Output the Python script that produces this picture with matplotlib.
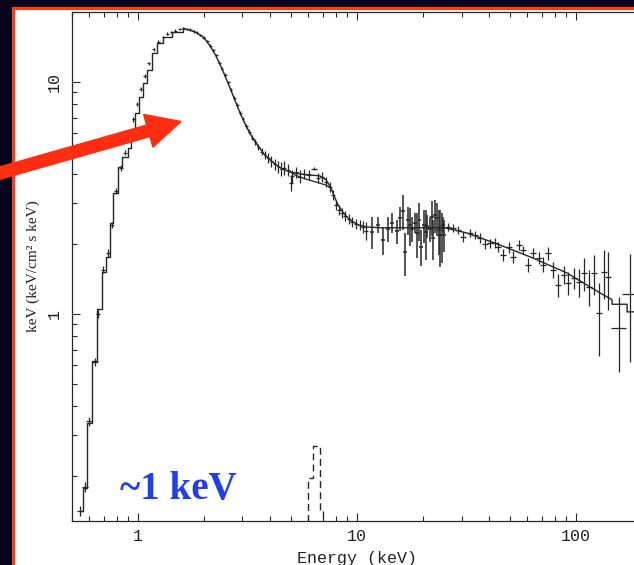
import matplotlib
matplotlib.use('Agg')
import matplotlib.pyplot as plt
import matplotlib.patches as mpatches
from matplotlib.transforms import IdentityTransform
from matplotlib.ticker import FixedLocator, FixedFormatter, LogLocator, NullFormatter

# model spectrum, soft end drawn as a histogram (bin start, value)
soft_model_e = [0.543, 0.561, 0.585, 0.617, 0.650, 0.685, 0.714, 0.745, 0.769, 0.810, 0.845,
                0.900, 0.929, 0.969, 1.011, 1.054, 1.099, 1.158, 1.221, 1.301, 1.430, 1.606]
soft_model_f = [0.1416, 0.178, 0.339, 0.627, 1.051, 1.517, 1.761, 2.467, 3.323, 4.30, 4.75,
                5.19, 6.21, 7.35, 8.61, 9.90, 11.27, 13.34, 14.72, 15.63, 16.43, 16.92]

# model above the peak
hard_model_e = [1.606, 1.727, 1.859, 2.001, 2.133, 2.271, 2.419, 2.576, 2.744, 2.923,
                3.112, 3.316, 3.531, 3.761, 4.006, 4.267, 4.545, 4.944, 5.492, 6.10,
                6.777, 7.219, 7.608, 7.85, 8.19, 8.72, 9.29, 10.11, 10.99, 12.74,
                19.40, 25.2, 31.8, 45.0, 63.6, 90.9, 128.8, 146.0, 146.0, 171.0, 171.0, 200.0]
hard_model_f = [16.92, 16.75, 16.26, 15.48, 14.30, 12.94, 11.38, 9.90, 8.53, 7.35,
                6.46, 5.79, 5.30, 4.89, 4.61, 4.39, 4.22, 4.09, 4.01, 3.97,
                3.93, 3.78, 3.49, 3.23, 2.95, 2.70, 2.54, 2.42, 2.37, 2.35,
                2.35, 2.35, 2.23, 1.98, 1.74, 1.50, 1.23, 1.15, 1.10, 1.10, 1.02, 1.02]

# continuum without the iron line
cont_e = [4.944, 5.21, 5.79, 6.43, 7.14, 7.608]
cont_f = [4.09, 3.97, 3.82, 3.71, 3.60, 3.49]

# iron line component (dashed)
fe_edges = [5.97, 6.30, 6.78, 7.00]
fe_f = [0.196, 0.270, 0.141]

# data: soft band
lo_e = [0.545, 0.573, 0.597, 0.637, 0.657, 0.692, 0.730, 0.761, 0.793, 0.836, 0.872, 0.915, 0.950,
        0.990, 1.030, 1.075, 1.120, 1.180, 1.240, 1.300, 1.360, 1.420, 1.480, 1.550, 1.610]
lo_f = [0.142, 0.180, 0.345, 0.620, 1.00, 1.55, 1.83, 2.42, 3.40, 4.25, 4.95, 5.75, 6.90,
        8.00, 9.30, 10.6, 12.0, 13.8, 14.9, 15.6, 16.1, 16.4, 16.6, 16.9, 17.0]
lo_de = [0.018, 0.018, 0.017, 0.017, 0.016, 0.016, 0.015, 0.015, 0.015, 0.015, 0.015, 0.015, 0.015,
         0.015, 0.015, 0.016, 0.016, 0.017, 0.018, 0.018, 0.019, 0.020, 0.020, 0.021, 0.022]
lo_df = [0.007, 0.009, 0.016, 0.026, 0.040, 0.055, 0.065, 0.080, 0.10, 0.12, 0.13, 0.14, 0.16,
         0.17, 0.18, 0.19, 0.20, 0.21, 0.22, 0.22, 0.22, 0.22, 0.22, 0.22, 0.22]

# data: peak and fall
pk_e = [1.67, 1.73, 1.80, 1.86, 1.93, 2.00, 2.07, 2.14, 2.21, 2.28, 2.35, 2.42, 2.50, 2.58, 2.66,
        2.75, 2.84, 2.93, 3.02, 3.12, 3.22, 3.32, 3.43, 3.55, 3.67, 3.80, 3.93, 4.07, 4.21, 4.36, 4.51]
pk_f = [16.9, 16.8, 16.5, 16.3, 15.9, 15.5, 15.0, 14.3, 13.7, 13.0, 12.1, 11.4, 10.7, 9.95, 9.25,
        8.55, 7.95, 7.35, 6.90, 6.45, 6.10, 5.75, 5.50, 5.25, 5.00, 4.85, 4.70, 4.55, 4.42, 4.30, 4.22]
pk_de = [0.025, 0.026, 0.027, 0.028, 0.029, 0.030, 0.031, 0.032, 0.033, 0.034, 0.035, 0.036, 0.037, 0.039, 0.040,
         0.041, 0.043, 0.044, 0.045, 0.047, 0.048, 0.050, 0.051, 0.053, 0.055, 0.057, 0.059, 0.061, 0.063, 0.065, 0.068]
pk_df = [0.20, 0.20, 0.20, 0.20, 0.20, 0.20, 0.20, 0.20, 0.19, 0.19, 0.18, 0.18, 0.17, 0.17, 0.16,
         0.16, 0.16, 0.16, 0.15, 0.15, 0.15, 0.16, 0.16, 0.17, 0.18, 0.20, 0.22, 0.24, 0.25, 0.26, 0.28]

# data: iron region
md_e = [4.64, 4.84, 4.99, 5.05, 5.27, 5.49, 5.73, 6.03, 6.36, 6.64, 6.92, 7.22,
        7.53, 7.77, 8.02, 8.27, 8.52, 8.80, 9.18, 9.49, 9.90, 10.32, 10.65, 10.99]
md_f = [4.26, 4.17, 3.67, 3.93, 4.09, 3.90, 4.01, 3.97, 4.22, 3.86, 3.90, 3.71,
        3.53, 3.26, 2.95, 2.81, 2.72, 2.64, 2.57, 2.49, 2.44, 2.42, 2.37, 2.28]
md_de = [0.12, 0.12, 0.12, 0.13, 0.13, 0.14, 0.14, 0.15, 0.20, 0.16, 0.17, 0.17,
         0.18, 0.19, 0.19, 0.20, 0.20, 0.21, 0.22, 0.23, 0.24, 0.25, 0.25, 0.26]
md_df = [0.30, 0.25, 0.30, 0.25, 0.22, 0.25, 0.20, 0.20, 0.06, 0.20, 0.20, 0.18,
         0.18, 0.16, 0.15, 0.14, 0.13, 0.13, 0.13, 0.12, 0.12, 0.12, 0.15, 0.20]

# data: noisy 12-25 keV band
nz_e = [11.71, 12.47, 13.14, 13.86, 14.45, 15.23, 15.72, 16.22, 16.57, 17.10,
        17.46, 17.83, 18.40, 18.79, 19.20, 19.60, 20.23, 20.66, 20.87, 21.54,
        22.00, 22.23, 22.71, 23.19, 23.68, 23.90, 24.45, 24.70, 24.95]
nz_f = [2.26, 2.42, 2.08, 2.33, 2.47, 2.27, 2.58, 2.78, 1.84, 2.54,
        2.42, 2.33, 2.47, 2.23, 2.54, 1.95, 2.42, 2.25, 2.40, 2.33,
        2.62, 2.12, 2.67, 2.59, 2.30, 2.19, 2.19, 2.42, 2.19]
nz_de = [0.20, 0.21, 0.22, 0.23, 0.24, 0.25, 0.26, 0.27, 0.27, 0.28,
         0.29, 0.29, 0.30, 0.31, 0.31, 0.32, 0.33, 0.34, 0.34, 0.35,
         0.36, 0.36, 0.37, 0.38, 0.39, 0.39, 0.40, 0.40, 0.41]
nz_df = [0.36, 0.20, 0.28, 0.28, 0.25, 0.27, 0.31, 0.48, 0.39, 0.35,
         0.45, 0.28, 0.25, 0.49, 0.47, 0.35, 0.39, 0.55, 0.27, 0.28,
         0.45, 0.42, 0.43, 0.42, 0.50, 0.60, 0.53, 0.20, 0.34]

# data: hard tail
hi_e = [26.0, 27.4, 28.9, 30.5, 32.8, 34.6, 36.4, 38.4, 40.5, 42.7, 44.0, 46.4,
        49.4, 51.6, 54.9, 57.3, 60.4, 63.6, 67.8, 70.7, 74.5, 78.5, 82.8, 88.2,
        91.9, 97.9, 103, 109, 115, 121, 127, 134, 140, 157, 177]
hi_f = [2.37, 2.35, 2.30, 2.15, 2.23, 2.19, 2.13, 2.00, 2.02, 2.02, 1.94, 1.80,
        1.94, 1.76, 1.98, 1.89, 1.63, 1.83, 1.74, 1.63, 1.83, 1.55, 1.33, 1.47,
        1.36, 1.43, 1.37, 1.50, 1.31, 1.50, 1.01, 1.52, 1.44, 0.87, 1.22]
hi_de = [0.83, 0.88, 0.92, 0.98, 1.05, 1.10, 1.17, 1.23, 1.30, 1.37, 1.41, 1.48,
         1.58, 1.65, 1.76, 1.83, 1.93, 2.04, 2.17, 2.26, 2.38, 2.51, 2.65, 2.82,
         2.94, 3.13, 3.30, 3.48, 3.67, 3.87, 4.08, 4.30, 4.48, 11.9, 15.5]
hi_df = [0.10, 0.10, 0.10, 0.10, 0.09, 0.09, 0.10, 0.10, 0.09, 0.10, 0.10, 0.11,
         0.11, 0.11, 0.10, 0.07, 0.11, 0.09, 0.10, 0.12, 0.12, 0.12, 0.15, 0.13,
         0.16, 0.15, 0.19, 0.24, 0.23, 0.30, 0.35, 0.36, 0.40, 0.31, 0.60]

x_ticks = [1, 10, 100]
x_tick_labels = ['1', '10', '100']
y_ticks = [1, 10]
y_tick_labels = ['1', '10']

W, H = 634, 565
ink = '#262626'

fig = plt.figure(figsize=(W / 100, H / 100), dpi=100, facecolor='#03051a')

# white slide panel with red frame (pixel coords)
panel = mpatches.Rectangle((12.5, -20), 700, 577.5, transform=IdentityTransform(),
                           facecolor='white', edgecolor='#ff3a1c', linewidth=2.3, zorder=-1)
fig.add_artist(panel)

ax = fig.add_axes([72 / W, 1 - 521 / H, 570 / W, 509 / H])
ax.set_facecolor('white')

ax.step(soft_model_e, soft_model_f, where='post', color=ink, lw=1.0)
ax.plot(hard_model_e, hard_model_f, color=ink, lw=1.0)
ax.plot(cont_e, cont_f, color=ink, lw=0.9)
ax.stairs(fe_f, fe_edges, baseline=0.05, color=ink, lw=1.0, linestyle=(0, (5, 3)))

for e, f, de, df, w in [(lo_e, lo_f, lo_de, lo_df, 0.9), (pk_e, pk_f, pk_de, pk_df, 0.9),
                        (md_e, md_f, md_de, md_df, 0.9), (nz_e, nz_f, nz_de, nz_df, 1.1),
                        (hi_e, hi_f, hi_de, hi_df, 0.9)]:
    ax.errorbar(e, f, xerr=de, yerr=df, fmt='none', ecolor=ink, elinewidth=w, capsize=0)

ax.set_xscale('log')
ax.set_yscale('log')
ax.set_xlim(0.5, 200)
ax.set_ylim(0.128, 20)

ax.xaxis.set_major_locator(FixedLocator(x_ticks))
ax.xaxis.set_major_formatter(FixedFormatter(x_tick_labels))
ax.yaxis.set_major_locator(FixedLocator(y_ticks))
ax.yaxis.set_major_formatter(FixedFormatter(y_tick_labels))
ax.xaxis.set_minor_locator(LogLocator(base=10, subs=range(2, 10)))
ax.yaxis.set_minor_locator(LogLocator(base=10, subs=range(2, 10)))
ax.xaxis.set_minor_formatter(NullFormatter())
ax.yaxis.set_minor_formatter(NullFormatter())

ax.tick_params(which='both', direction='in', top=True, right=True, color=ink, width=0.8)
ax.tick_params(which='major', length=6)
ax.tick_params(which='minor', length=3.5)
ax.tick_params(axis='x', pad=6)
ax.tick_params(axis='y', pad=7)
for lbl in ax.get_xticklabels() + ax.get_yticklabels():
    lbl.set_fontfamily('Liberation Mono')
    lbl.set_fontsize(12)
    lbl.set_color('#222222')
for lbl in ax.get_yticklabels():
    lbl.set_rotation(90)
    lbl.set_va('center')

for s in ax.spines.values():
    s.set_color(ink)
    s.set_linewidth(0.9)

ax.set_xlabel('Energy (keV)', fontfamily='Liberation Mono', fontsize=12, color='#222222')
ax.xaxis.set_label_coords(0.5, -0.058)
ax.set_ylabel('keV (keV/cm² s keV)', fontfamily='Liberation Serif', fontsize=11, color='#222222')
ax.yaxis.set_label_coords(-0.056, 0.5)

fig.text(178 / W, 1 - 489 / H, '~1 keV', ha='center', va='center', fontsize=28,
         fontweight='bold', fontfamily='Liberation Serif', color='#1f3df2')

# red arrow pointing at the peak (pixel coords, y up)
arrow = mpatches.FancyArrow(-5, H - 174.5, 186, 53, width=12, head_width=34, head_length=34,
                            length_includes_head=True, transform=IdentityTransform(),
                            color='#ff2d10', zorder=10)
fig.add_artist(arrow)

fig.savefig('out.png', dpi=100, facecolor=fig.get_facecolor())
